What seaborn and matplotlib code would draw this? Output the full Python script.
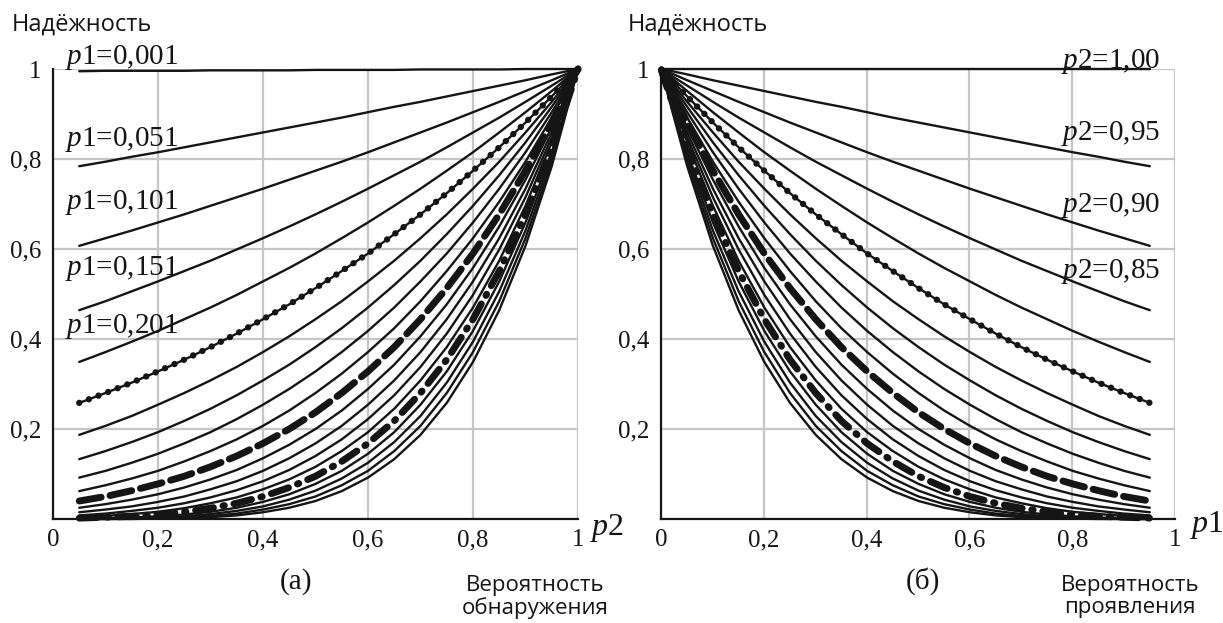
import matplotlib
matplotlib.use("Agg")
import matplotlib.pyplot as plt
import seaborn as sns

# ---------------- data ----------------
p1_values = [0.001, 0.051, 0.101, 0.151, 0.201, 0.251, 0.301, 0.351, 0.401, 0.451,
             0.501, 0.551, 0.601, 0.651, 0.701, 0.751, 0.801, 0.851, 0.901, 0.951]
p2_values = [0.05, 0.10, 0.15, 0.20, 0.25, 0.30, 0.35, 0.40, 0.45, 0.50,
             0.55, 0.60, 0.65, 0.70, 0.75, 0.80, 0.85, 0.90, 0.95, 1.00]

# reliability: rows -> p1_values, columns -> p2_values
reliability = [
    [0.995, 0.996, 0.996, 0.996, 0.996, 0.997, 0.997, 0.997, 0.997, 0.998, 0.998, 0.998, 0.998, 0.999, 0.999, 0.999, 0.999, 1.000, 1.000, 1.000],
    [0.784, 0.794, 0.805, 0.815, 0.826, 0.837, 0.848, 0.859, 0.870, 0.881, 0.892, 0.904, 0.916, 0.927, 0.939, 0.951, 0.963, 0.975, 0.988, 1.000],
    [0.607, 0.624, 0.641, 0.659, 0.677, 0.696, 0.715, 0.734, 0.754, 0.774, 0.794, 0.815, 0.837, 0.859, 0.881, 0.904, 0.927, 0.951, 0.975, 1.000],
    [0.464, 0.484, 0.506, 0.528, 0.551, 0.574, 0.599, 0.624, 0.650, 0.677, 0.705, 0.734, 0.764, 0.794, 0.826, 0.859, 0.892, 0.927, 0.963, 1.000],
    [0.349, 0.371, 0.394, 0.418, 0.444, 0.470, 0.498, 0.528, 0.558, 0.590, 0.624, 0.659, 0.696, 0.734, 0.774, 0.815, 0.859, 0.904, 0.951, 1.000],
    [0.258, 0.280, 0.303, 0.328, 0.354, 0.382, 0.412, 0.444, 0.477, 0.513, 0.551, 0.590, 0.633, 0.677, 0.724, 0.774, 0.826, 0.881, 0.939, 1.000],
    [0.187, 0.207, 0.229, 0.254, 0.280, 0.308, 0.338, 0.371, 0.406, 0.444, 0.484, 0.528, 0.574, 0.624, 0.677, 0.734, 0.794, 0.859, 0.927, 1.000],
    [0.133, 0.151, 0.171, 0.193, 0.218, 0.245, 0.275, 0.308, 0.343, 0.382, 0.424, 0.470, 0.520, 0.574, 0.633, 0.696, 0.764, 0.837, 0.916, 1.000],
    [0.092, 0.107, 0.125, 0.145, 0.168, 0.193, 0.222, 0.254, 0.289, 0.328, 0.371, 0.418, 0.470, 0.528, 0.590, 0.659, 0.734, 0.815, 0.904, 1.000],
    [0.062, 0.075, 0.090, 0.107, 0.128, 0.151, 0.177, 0.207, 0.241, 0.280, 0.323, 0.371, 0.424, 0.484, 0.551, 0.624, 0.705, 0.794, 0.892, 1.000],
    [0.040, 0.050, 0.063, 0.078, 0.095, 0.116, 0.140, 0.168, 0.200, 0.237, 0.280, 0.328, 0.382, 0.444, 0.513, 0.590, 0.677, 0.774, 0.881, 1.000],
    [0.025, 0.033, 0.043, 0.055, 0.070, 0.088, 0.109, 0.135, 0.165, 0.200, 0.241, 0.289, 0.343, 0.406, 0.477, 0.558, 0.650, 0.754, 0.870, 1.000],
    [0.015, 0.021, 0.028, 0.038, 0.050, 0.066, 0.084, 0.107, 0.135, 0.168, 0.207, 0.254, 0.308, 0.371, 0.444, 0.528, 0.624, 0.734, 0.859, 1.000],
    [0.008, 0.012, 0.018, 0.025, 0.035, 0.048, 0.064, 0.084, 0.109, 0.140, 0.177, 0.222, 0.275, 0.338, 0.412, 0.498, 0.599, 0.715, 0.848, 1.000],
    [0.004, 0.007, 0.011, 0.016, 0.024, 0.035, 0.048, 0.066, 0.088, 0.116, 0.151, 0.193, 0.245, 0.308, 0.382, 0.470, 0.574, 0.696, 0.837, 1.000],
    [0.002, 0.004, 0.006, 0.010, 0.016, 0.024, 0.035, 0.050, 0.070, 0.095, 0.128, 0.168, 0.218, 0.280, 0.354, 0.444, 0.551, 0.677, 0.826, 1.000],
    [0.001, 0.002, 0.003, 0.006, 0.010, 0.016, 0.025, 0.038, 0.055, 0.078, 0.107, 0.145, 0.193, 0.254, 0.328, 0.418, 0.528, 0.659, 0.815, 1.000],
    [0.000, 0.001, 0.002, 0.003, 0.006, 0.011, 0.018, 0.028, 0.043, 0.063, 0.090, 0.125, 0.171, 0.229, 0.303, 0.394, 0.506, 0.641, 0.805, 1.000],
    [0.000, 0.000, 0.001, 0.002, 0.004, 0.007, 0.012, 0.021, 0.033, 0.050, 0.075, 0.107, 0.151, 0.207, 0.280, 0.371, 0.484, 0.624, 0.794, 1.000],
    [0.000, 0.000, 0.000, 0.001, 0.002, 0.004, 0.008, 0.015, 0.025, 0.040, 0.062, 0.092, 0.133, 0.187, 0.258, 0.349, 0.464, 0.607, 0.784, 1.000],
]

left_curve_labels = ["0,001", "0,051", "0,101", "0,151", "0,201"]
right_curve_labels = ["1,00", "0,95", "0,90", "0,85"]
tick_values = [0, 0.2, 0.4, 0.6, 0.8, 1.0]
x_tick_labels = ["0", "0,2", "0,4", "0,6", "0,8", "1"]
y_tick_labels = ["", "0,2", "0,4", "0,6", "0,8", "1"]
y_title = "Надёжность"
left_x_title = "Вероятность\nобнаружения"
right_x_title = "Вероятность\nпроявления"

# ---------------- style ----------------
sns.set_style("white")
plt.rcParams["font.family"] = ["Open Sans", "DejaVu Sans"]
plt.rcParams["mathtext.fontset"] = "custom"
plt.rcParams["mathtext.it"] = "Liberation Serif:italic"
plt.rcParams["mathtext.rm"] = "Liberation Serif"

INK = "#151515"
SERIF = "Liberation Serif"

fig = plt.figure(figsize=(12.23, 6.23), dpi=100)
axL = fig.add_axes([53 / 1223, 1 - 519 / 623, 525 / 1223, 450 / 623])
axR = fig.add_axes([661 / 1223, 1 - 519 / 623, 514 / 1223, 450 / 623])


def draw_curve(ax, x, y, kind):
    base = dict(ax=ax, color=INK, estimator=None, sort=False, legend=False)
    if kind == "solid":
        sns.lineplot(x=x, y=y, linewidth=1.7, clip_on=False, **base)
    elif kind == "dots":
        sns.lineplot(x=x, y=y, linewidth=1.7, clip_on=False, **base)
        sns.lineplot(x=x, y=y, linewidth=4.6, linestyle=(0, (0.01, 1.6)),
                     dash_capstyle="round", clip_on=False, **base)
    elif kind == "dash":
        sns.lineplot(x=x, y=y, linewidth=5.0, linestyle=(0, (3.2, 1.3)),
                     dash_capstyle="round", clip_on=False, **base)
    elif kind == "dashdot":
        sns.lineplot(x=x, y=y, linewidth=5.0, linestyle=(0, (2.6, 1.4, 0.2, 1.4)),
                     dash_capstyle="round", clip_on=False, **base)


def style_for(idx):
    return {5: "dots", 10: "dash", 15: "dashdot"}.get(idx, "solid")


# left panel: one curve per p1, plotted against p2
for i, p1 in enumerate(p1_values):
    draw_curve(axL, p2_values, reliability[i], style_for(i))

# right panel: one curve per p2, plotted against p1
right_style = {14: "dots", 9: "dash", 4: "dashdot"}
for j, p2 in enumerate(p2_values):
    col = [row[j] for row in reliability]
    draw_curve(axR, p1_values, col, right_style.get(j, "solid"))

for ax in (axL, axR):
    ax.set_xlim(0, 1)
    ax.set_ylim(0, 1)
    ax.set_xticks(tick_values)
    ax.set_xticklabels(x_tick_labels)
    ax.set_yticks(tick_values)
    ax.set_yticklabels(y_tick_labels)
    ax.grid(True, color="#c6c6c6", linewidth=1.6)
    ax.set_axisbelow(True)
    for s in ("top", "right"):
        ax.spines[s].set_visible(False)
    for s in ("left", "bottom"):
        ax.spines[s].set_color(INK)
        ax.spines[s].set_linewidth(1.6)
    ax.tick_params(axis="both", direction="inout", length=9, width=1.5,
                   colors=INK, labelsize=18)
    ax.tick_params(axis="x", pad=3)
    ax.tick_params(axis="y", pad=4)
    for lab in ax.get_xticklabels() + ax.get_yticklabels():
        lab.set_fontfamily(SERIF)
    ax.set_xlabel("")
    ax.set_ylabel("")
    ax.patch.set_alpha(0)

# curve labels, left panel
left_label_y = [1.012, 0.828, 0.688, 0.543, 0.414]
for txt, yy in zip(left_curve_labels, left_label_y):
    axL.text(0.023, yy, "$p$1=" + txt, fontsize=21, family=SERIF, color=INK,
             ha="left", va="baseline")

# curve labels, right panel
right_label_y = [1.002, 0.842, 0.682, 0.536]
for txt, yy in zip(right_curve_labels, right_label_y):
    axR.text(0.971, yy, "$p$2=" + txt, fontsize=21, family=SERIF, color=INK,
             ha="right", va="baseline")

# titles / annotations
fig.text(12 / 1223, 1 - 25 / 623, y_title, fontsize=17, color=INK, ha="left", va="center")
fig.text(628 / 1223, 1 - 25 / 623, y_title, fontsize=17, color=INK, ha="left", va="center")
fig.text(590 / 1223, 1 - 528 / 623, "$p$2", fontsize=23, family=SERIF, color=INK,
         ha="left", va="center")
fig.text(1190 / 1223, 1 - 525 / 623, "$p$1", fontsize=23, family=SERIF, color=INK,
         ha="left", va="center")
fig.text(296 / 1223, 1 - 582 / 623, "(a)", fontsize=21, family=SERIF, color=INK,
         ha="center", va="center")
fig.text(923 / 1223, 1 - 581 / 623, "(б)", fontsize=21, family=SERIF, color=INK,
         ha="center", va="center")
fig.text(535 / 1223, 1 - 575 / 623, left_x_title, fontsize=16, color=INK,
         ha="center", va="top", multialignment="center", linespacing=1.05)
fig.text(1130 / 1223, 1 - 575 / 623, right_x_title, fontsize=16, color=INK,
         ha="center", va="top", multialignment="center", linespacing=1.05)

fig.savefig("out.png", dpi=100, facecolor="white")
